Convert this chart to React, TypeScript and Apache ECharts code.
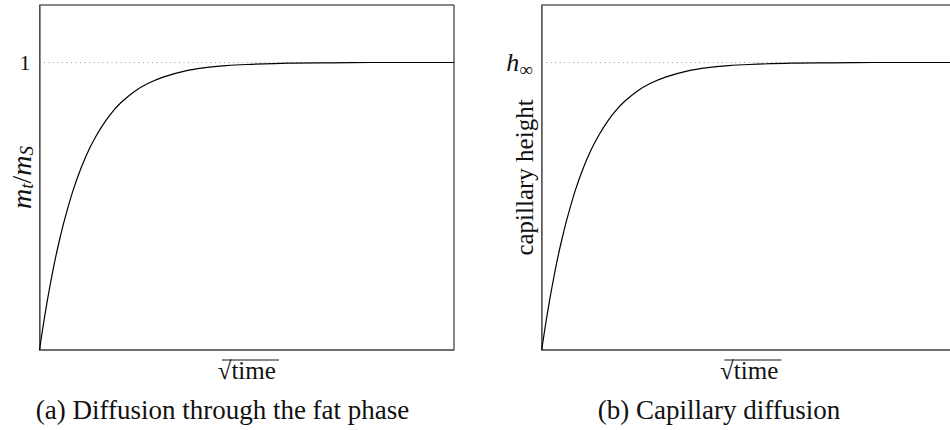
import React, { useEffect, useRef } from "react";
import * as echarts from "echarts";

// sqrt(time) samples and the normalised uptake
const sqrtTime = [0, 0.1, 0.2, 0.3, 0.4, 0.5, 0.6, 0.8, 1.0, 1.2, 1.4, 1.6, 1.8, 2.0, 2.3, 2.6, 3.0, 3.5, 4.0, 4.5, 5.0, 6.0, 7.0, 8.0, 9.0, 10.0];
const massRatio = [0, 0.095, 0.181, 0.259, 0.33, 0.393, 0.451, 0.551, 0.632, 0.699, 0.753, 0.798, 0.835, 0.865, 0.9, 0.926, 0.95, 0.97, 0.982, 0.989, 0.993, 0.998, 0.999, 1.0, 1.0, 1.0];
const capillaryHeight = [0, 0.095, 0.181, 0.259, 0.33, 0.393, 0.451, 0.551, 0.632, 0.699, 0.753, 0.798, 0.835, 0.865, 0.9, 0.926, 0.95, 0.97, 0.982, 0.989, 0.993, 0.998, 0.999, 1.0, 1.0, 1.0];

// plateau level and its tick
const plateau = 1;
const yTicks = [1];
const xRange = [0, 10];
const yRange = [0, 1.2];

const captions = ["(a) Diffusion through the fat phase", "(b) Capillary diffusion"];

const FONT = "Liberation Serif";
const INK = "#111";

export default function App() {
  const ref = useRef<HTMLDivElement>(null);

  useEffect(() => {
    if (!ref.current) return;
    const chart = echarts.init(ref.current, undefined, { renderer: "svg" });

    const grids = [
      { left: 39.5, top: 5, width: 414.5, height: 345 },
      { left: 541.7, top: 5, width: 415, height: 345 },
    ];

    const pair = (ys: number[]) => sqrtTime.map((x, i) => [x, ys[i]]);

    const xAxisFor = (gi: number) => ({
      type: "value" as const,
      gridIndex: gi,
      min: xRange[0],
      max: xRange[1],
      name: "√time",
      nameLocation: "middle" as const,
      nameGap: 8,
      nameMoveOverlap: false,
      nameTextStyle: { fontFamily: FONT, fontSize: 25, color: INK },
      axisLine: { show: true, lineStyle: { color: "#666", width: 1.5 } },
      axisTick: { show: false },
      axisLabel: { show: false },
      splitLine: { show: false },
    });

    const yAxisFor = (gi: number, name: string, rich: any, tickText: string) => ({
      type: "value" as const,
      gridIndex: gi,
      min: yRange[0],
      max: yRange[1],
      name,
      nameLocation: "middle" as const,
      nameRotate: 90,
      nameGap: gi === 0 ? 4 : 5,
      nameMoveOverlap: false,
      nameTextStyle: { fontFamily: FONT, fontSize: 25, color: INK, lineHeight: 25, rich },
      axisLine: { show: true, lineStyle: { color: "#666", width: 1.5 } },
      axisTick: { show: false },
      axisLabel: {
        show: true,
        customValues: yTicks,
        margin: 9,
        fontFamily: FONT,
        fontSize: 22,
        color: INK,
        formatter: () => tickText,
        rich: {
          h: { fontFamily: FONT, fontStyle: "italic", fontSize: 26, color: INK, lineHeight: 32, verticalAlign: "middle" },
          inf: { fontFamily: FONT, fontSize: 19, color: INK, lineHeight: 19, verticalAlign: "bottom" },
        },
      },
      splitLine: { show: false },
    });

    const nameRichA = {
      i: { fontFamily: FONT, fontStyle: "italic", fontSize: 28, color: INK, lineHeight: 28, verticalAlign: "middle" },
      n: { fontFamily: FONT, fontSize: 28, color: INK, lineHeight: 28, verticalAlign: "middle" },
      s: { fontFamily: FONT, fontStyle: "italic", fontSize: 19, color: INK, lineHeight: 19, verticalAlign: "bottom" },
    };

    const plateauSeries = (gi: number) => ({
      type: "line" as const,
      xAxisIndex: gi,
      yAxisIndex: gi,
      data: [[xRange[0], plateau], [xRange[1], plateau]],
      symbol: "none",
      silent: true,
      lineStyle: { color: "#999", width: 1, type: [1, 3.5] },
      z: 1,
    });

    const curveSeries = (gi: number, ys: number[]) => ({
      type: "line" as const,
      xAxisIndex: gi,
      yAxisIndex: gi,
      data: pair(ys),
      symbol: "none",
      smooth: 0.3,
      silent: true,
      lineStyle: { color: "#000", width: 1.2 },
      z: 3,
    });

    chart.setOption({
      animation: false,
      backgroundColor: "#fff",
      grid: grids.map((g) => ({
        ...g,
        outerBoundsMode: "none",
        containLabel: false,
        show: true,
        borderColor: INK,
        borderWidth: 1,
        backgroundColor: "transparent",
      })),
      xAxis: [xAxisFor(0), xAxisFor(1)],
      yAxis: [
        yAxisFor(0, "{i|m}{s|t}{n|/}{i|m}{s|S}", nameRichA, "1"),
        yAxisFor(1, "capillary height", {}, "{h|h}{inf|∞}"),
      ],
      series: [
        plateauSeries(0),
        curveSeries(0, massRatio),
        plateauSeries(1),
        curveSeries(1, capillaryHeight),
      ],
      graphic: [
        // overline of the square-root signs
        { type: "line", shape: { x1: 222, y1: 360, x2: 279, y2: 360 }, style: { stroke: INK, lineWidth: 1 } },
        { type: "line", shape: { x1: 724.5, y1: 360, x2: 781.5, y2: 360 }, style: { stroke: INK, lineWidth: 1 } },
        {
          type: "text",
          x: 222.5,
          y: 410,
          style: { text: captions[0], fontFamily: FONT, fontSize: 27, fill: INK, align: "center", verticalAlign: "middle" },
        },
        {
          type: "text",
          x: 719,
          y: 410,
          style: { text: captions[1], fontFamily: FONT, fontSize: 27, fill: INK, align: "center", verticalAlign: "middle" },
        },
      ],
    });

    return () => chart.dispose();
  }, []);

  return <div ref={ref} style={{ position: "absolute", left: 0, top: 0, width: 950, height: 430 }} />;
}
